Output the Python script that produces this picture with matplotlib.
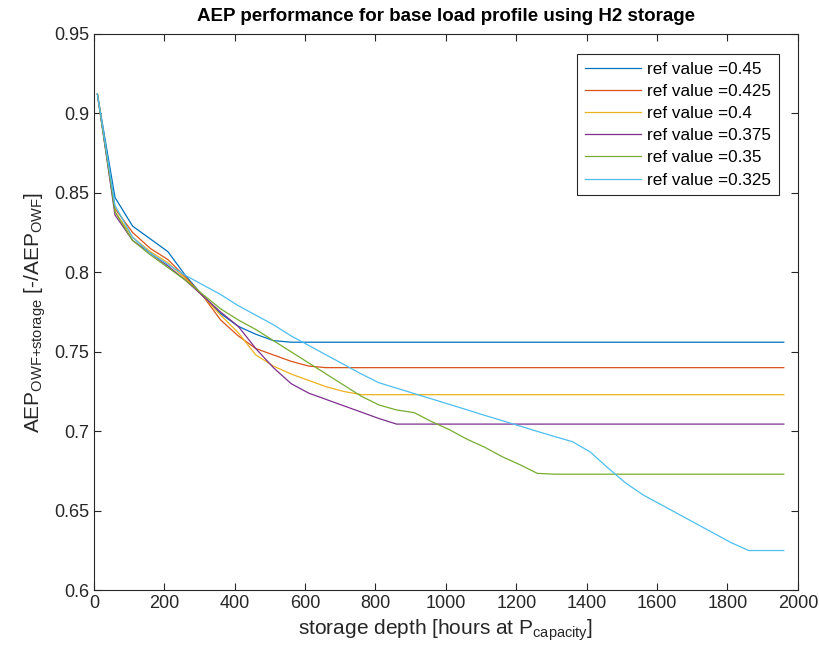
import matplotlib
matplotlib.use("Agg")
import matplotlib.pyplot as plt
from matplotlib.ticker import FuncFormatter

plt.rcParams["font.family"] = ["Liberation Sans", "DejaVu Sans"]
plt.rcParams["mathtext.fontset"] = "custom"
plt.rcParams["mathtext.rm"] = "Liberation Sans"

# storage depth [hours at P_capacity]
depth = [10, 60, 110, 160, 210, 260, 310, 360, 410, 460,
         510, 560, 610, 660, 710, 760, 810, 860, 910, 960,
         1010, 1060, 1110, 1160, 1210, 1260, 1310, 1360, 1410, 1460,
         1510, 1560, 1610, 1660, 1710, 1760, 1810, 1860, 1910, 1960]

ref_values = ["0.45", "0.425", "0.4", "0.375", "0.35", "0.325"]

aep_045 = [0.912, 0.847, 0.829, 0.821, 0.813, 0.798, 0.785, 0.774, 0.766, 0.761,
           0.757, 0.756, 0.756, 0.756, 0.756, 0.756, 0.756, 0.756, 0.756, 0.756,
           0.756, 0.756, 0.756, 0.756, 0.756, 0.756, 0.756, 0.756, 0.756, 0.756,
           0.756, 0.756, 0.756, 0.756, 0.756, 0.756, 0.756, 0.756, 0.756, 0.756]
aep_0425 = [0.912, 0.840, 0.825, 0.815, 0.808, 0.797, 0.785, 0.770, 0.760, 0.752,
            0.748, 0.744, 0.741, 0.740, 0.740, 0.740, 0.740, 0.740, 0.740, 0.740,
            0.740, 0.740, 0.740, 0.740, 0.740, 0.740, 0.740, 0.740, 0.740, 0.740,
            0.740, 0.740, 0.740, 0.740, 0.740, 0.740, 0.740, 0.740, 0.740, 0.740]
aep_04 = [0.912, 0.838, 0.822, 0.813, 0.806, 0.796, 0.785, 0.773, 0.762, 0.748,
          0.741, 0.736, 0.732, 0.728, 0.725, 0.723, 0.723, 0.723, 0.723, 0.723,
          0.723, 0.723, 0.723, 0.723, 0.723, 0.723, 0.723, 0.723, 0.723, 0.723,
          0.723, 0.723, 0.723, 0.723, 0.723, 0.723, 0.723, 0.723, 0.723, 0.723]
aep_0375 = [0.912, 0.836, 0.820, 0.812, 0.804, 0.795, 0.785, 0.775, 0.766, 0.752,
            0.740, 0.730, 0.724, 0.720, 0.716, 0.712, 0.708, 0.7045, 0.7045, 0.7045,
            0.7045, 0.7045, 0.7045, 0.7045, 0.7045, 0.7045, 0.7045, 0.7045, 0.7045, 0.7045,
            0.7045, 0.7045, 0.7045, 0.7045, 0.7045, 0.7045, 0.7045, 0.7045, 0.7045, 0.7045]
aep_035 = [0.912, 0.838, 0.820, 0.811, 0.803, 0.795, 0.786, 0.777, 0.770, 0.764,
           0.757, 0.750, 0.743, 0.736, 0.729, 0.722, 0.7165, 0.7134, 0.7117, 0.706,
           0.701, 0.695, 0.690, 0.684, 0.679, 0.6735, 0.673, 0.673, 0.673, 0.673,
           0.673, 0.673, 0.673, 0.673, 0.673, 0.673, 0.673, 0.673, 0.673, 0.673]
aep_0325 = [0.912, 0.842, 0.822, 0.812, 0.805, 0.798, 0.792, 0.786, 0.779, 0.773,
            0.767, 0.760, 0.754, 0.748, 0.742, 0.736, 0.7305, 0.7271, 0.7237, 0.7203,
            0.7169, 0.7135, 0.710, 0.7067, 0.7033, 0.6999, 0.6966, 0.6934, 0.687, 0.677,
            0.6676, 0.660, 0.654, 0.648, 0.642, 0.636, 0.630, 0.625, 0.625, 0.625]

series = [aep_045, aep_0425, aep_04, aep_0375, aep_035, aep_0325]
colors = [(0, 0.447, 0.741), (0.85, 0.325, 0.098), (0.929, 0.694, 0.125),
          (0.494, 0.184, 0.556), (0.466, 0.674, 0.188), (0.301, 0.745, 0.933)]

dark = (0.15, 0.15, 0.15)

fig = plt.figure(figsize=(8.2, 6.61), dpi=100)
ax = fig.add_axes([0.1145, 0.107, 0.8585, 0.842])

for vals, ref, c in zip(series, ref_values, colors):
    ax.plot(depth, vals, color=c, linewidth=0.9, label="ref value =" + ref)

ax.set_xlim(0, 2000)
ax.set_ylim(0.6, 0.95)
ax.set_xticks(range(0, 2001, 200))
ax.set_yticks([0.6, 0.65, 0.7, 0.75, 0.8, 0.85, 0.9, 0.95])
ax.yaxis.set_major_formatter(FuncFormatter(lambda v, p: "%g" % round(v, 3)))
ax.tick_params(direction="in", top=True, right=True, labelsize=13,
               colors=dark, length=5, width=0.8)
for s in ax.spines.values():
    s.set_color(dark)
    s.set_linewidth(0.8)

ax.set_title("AEP performance for base load profile using H2 storage",
             fontsize=13.5, fontweight="bold", color="black", pad=9)
ax.set_xlabel(r"storage depth [hours at P$_{\mathregular{capacity}}$]",
              fontsize=15, color=dark)
ax.set_ylabel(r"AEP$_{\mathregular{OWF{+}storage}}$ [-/AEP$_{\mathregular{OWF}}$]",
              fontsize=15, color=dark)

leg = ax.legend(loc="upper right", bbox_to_anchor=(0.973, 0.9635), borderaxespad=0,
                fontsize=12.3, frameon=True, fancybox=False,
                edgecolor=dark, framealpha=1, borderpad=0.45,
                handlelength=3.3, handletextpad=0.35, labelspacing=0.42)
leg.get_frame().set_linewidth(0.8)

fig.savefig("out.png", dpi=100)
